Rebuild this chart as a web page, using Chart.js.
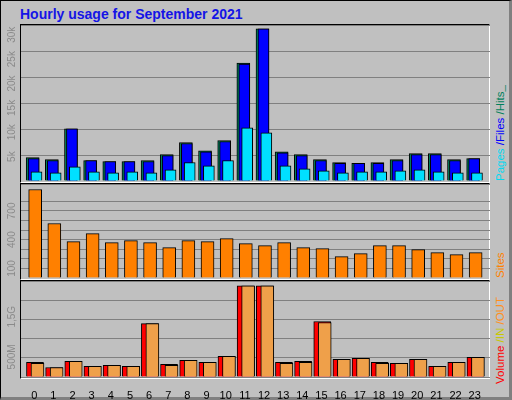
<!DOCTYPE html>
<html>
<head>
<style>
  body { margin: 0; background: #fff; }
  #frame { position: absolute; left: 0; top: 0; width: 508px; height: 396px; background: #C0C0C0;
           border: 1px solid #000; border-right: 3px solid #808080; border-bottom: 3px solid #808080; }
  .plot { position: absolute; left: 20px; width: 470px; border-top: 1px solid #000; border-left: 1px solid #000;
          border-right: 1px solid #fff; border-bottom: 1px solid #fff; box-sizing: border-box; }
  canvas { position: absolute; left: 0; }
  .side { position: absolute; transform-origin: left top; transform: rotate(-90deg); white-space: nowrap;
          font: 11.5px "Liberation Sans", Arial, sans-serif; line-height: 16px; }
  #title { position: absolute; left: 20px; top: 6px; font: bold 14px "Liberation Sans", Arial, sans-serif; color: #1414E6; }
</style>
</head>
<body>
<div id="frame"></div>
<div id="title">Hourly usage for September 2021</div>
<div class="plot" style="top:24px;height:159px"></div>
<div class="plot" style="top:183px;height:97px"></div>
<div class="plot" style="top:280px;height:99px"></div>
<div class="side" style="left:492px;top:181px"><span style="color:#00D8F0">Pages </span><span style="color:#0000FF">/Files </span><span style="color:#00805C">/Hits_</span></div>
<div class="side" style="left:492px;top:278px;color:#FF8000">Sites</div>
<div class="side" style="left:492px;top:384px"><span style="color:#FF0000">Volume </span><span style="color:#C8C800">/IN </span><span style="color:#FF9020">/OUT</span></div>
<canvas id="c1" style="top:25px" width="512" height="156"></canvas>
<canvas id="c2" style="top:184px" width="512" height="94"></canvas>
<canvas id="c3" style="top:281px" width="512" height="119"></canvas>

<script src="https://cdn.jsdelivr.net/npm/chart.js"></script>
<script>
// hours 0..23
var hours = [0,1,2,3,4,5,6,7,8,9,10,11,12,13,14,15,16,17,18,19,20,21,22,23];
var hits  = [4800,4400,10700,4200,4000,4000,4200,5400,7900,6200,8300,24200,31200,6000,5400,4400,3800,3600,3800,4400,5600,5600,4400,4600];
var files = [4600,4200,10700,4200,4000,4000,4000,5200,7700,6000,8100,24000,31200,5800,5200,4200,3600,3600,3600,4200,5400,5400,4200,4600];
var pages = [1900,1700,2900,1900,1700,1900,1700,2300,3800,3100,4200,10900,9900,3100,2500,2100,1700,1900,1900,2100,2300,1900,1700,1700];
var sites = [923,568,380,463,369,390,369,317,390,380,411,359,338,369,317,307,223,254,338,338,296,265,244,265];
var volume = [364,237,390,263,288,263,1330,314,415,364,517,2271,2271,364,390,1381,441,466,364,339,441,263,364,492]; // MB
var volIn  = [0,0,0,0,0,0,0,0,0,0,0,0,0,0,0,0,0,0,0,0,0,0,0,0];
var volOut = [339,237,390,263,288,263,1330,288,415,364,517,2271,2271,339,364,1356,441,466,339,339,441,263,364,492];
var tickHits  = [5000,10000,15000,20000,25000,30000];
var tickHitsLbl = ['5k','10k','15k','20k','25k','30k'];
var tickSites = [100,400,700];
var tickVol = [500,1500];
var tickVolLbl = ['500M','1,5G'];

var XMIN = -0.69, XMAX = 23.8;
function xAxis(shift, show) {
  return { type: 'linear', display: show, offset: false, bounds: 'ticks', min: XMIN - shift, max: XMAX - shift,
    grid: { display: false, offset: false }, border: { display: false },
    afterFit: function (s) { if (show) s.height = 23; },
    afterBuildTicks: function (s) {
      s.min = XMIN - shift; s.max = XMAX - shift;
      s.ticks = hours.map(function (h) { return { value: h }; });
    },
    ticks: { display: show, padding: 4, autoSkip: false, maxRotation: 0, color: '#000',
      font: { family: 'Liberation Sans', size: 11 },
      callback: function (v) { return String(v); } } };
}
function yAxis(max, step) {
  return { min: 0, max: max, afterFit: function (s) { s.width = 0; },
    ticks: { display: false, stepSize: step }, border: { display: false },
    grid: { color: '#808080', drawTicks: false } };
}
function sideTicks(values, labels) {
  return { id: 'sideTicks', afterDraw: function (chart) {
    var ctx = chart.ctx, y = chart.scales.y;
    ctx.save();
    ctx.fillStyle = '#8a8a8a';
    ctx.font = '10px "Liberation Sans", Arial, sans-serif';
    ctx.textAlign = 'center'; ctx.textBaseline = 'middle';
    values.forEach(function (v, i) {
      ctx.save();
      ctx.translate(12, y.getPixelForValue(v));
      ctx.rotate(-Math.PI / 2);
      ctx.fillText(labels[i], 0, 0);
      ctx.restore();
    });
    ctx.restore();
  } };
}
function pts(arr) { return arr.map(function (v, i) { return { x: hours[i], y: v }; }); }
function bar(data, color, w, axis, order) {
  return { data: pts(data), backgroundColor: color, borderColor: '#000', borderWidth: 1,
    barThickness: w, xAxisID: axis, order: order, grouped: false, borderSkipped: 'bottom' };
}
var common = { responsive: false, animation: false, plugins: { legend: { display: false }, tooltip: { enabled: false } } };

new Chart(document.getElementById('c1'), {
  type: 'bar',
  data: { datasets: [bar(pages, '#00E0FF', 11, 'xp', 0), bar(files, '#0000FF', 11, 'xf', 1), bar(hits, '#00805C', 13, 'xh', 2)] },
  options: Object.assign({}, common, {
    layout: { padding: { left: 21, right: 22, top: 0, bottom: 0 } },
    scales: { xh: xAxis(-0.08, false), xf: xAxis(-0.03, false), xp: xAxis(0.12, false), y: yAxis(32000, 5000) } }),
  plugins: [sideTicks(tickHits, tickHitsLbl)]
});

new Chart(document.getElementById('c2'), {
  type: 'bar',
  data: { datasets: [bar(sites, '#FF8000', 13, 'xs', 0)] },
  options: Object.assign({}, common, {
    layout: { padding: { left: 21, right: 22, top: 0, bottom: 0 } },
    scales: { xs: xAxis(0.05, false), y: yAxis(980, 100) } }),
  plugins: [sideTicks(tickSites, tickSites.map(String))]
});

new Chart(document.getElementById('c3'), {
  type: 'bar',
  data: { datasets: [bar(volOut, '#EFA04A', 13, 'xo', 0), bar(volIn, '#C8C800', 13, 'xi', 1), bar(volume, '#FF0000', 17, 'xv', 2), { data: [], xAxisID: 'x' }] },
  options: Object.assign({}, common, {
    layout: { padding: { left: 21, right: 22, top: 0, bottom: 0 } },
    scales: { x: xAxis(0, true), xv: xAxis(0.04, false), xi: xAxis(0.1, false), xo: xAxis(0.17, false), y: yAxis(2390, 500) } }),
  plugins: [sideTicks(tickVol, tickVolLbl)]
});
</script>
</body>
</html>
